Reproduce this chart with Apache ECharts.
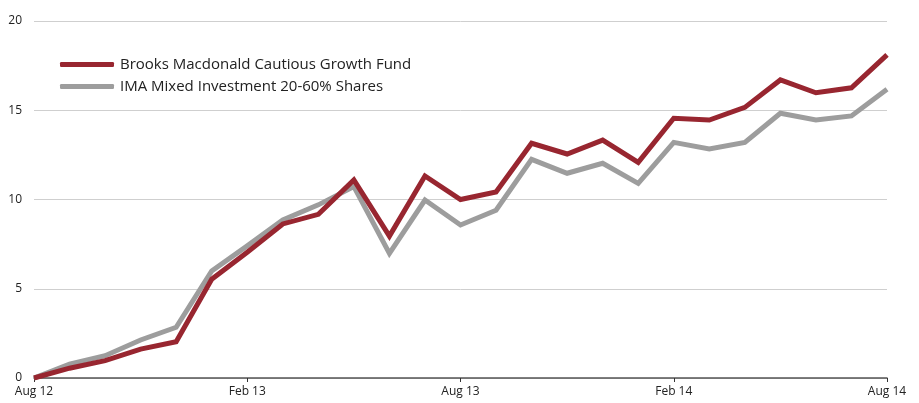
<!DOCTYPE html>
<html><head><meta charset="utf-8">
<script src="https://cdn.jsdelivr.net/npm/echarts@6/dist/echarts.min.js"></script>
<style>html,body{margin:0;padding:0;background:#fff}#c{width:919px;height:403px}</style>
</head><body><div id="c"></div>
<script>
const categories = ["Aug 12","Sep 12","Oct 12","Nov 12","Dec 12","Jan 13","Feb 13","Mar 13","Apr 13","May 13","Jun 13","Jul 13","Aug 13","Sep 13","Oct 13","Nov 13","Dec 13","Jan 14","Feb 14","Mar 14","Apr 14","May 14","Jun 14","Jul 14","Aug 14"];
const brooks = [0, 0.55, 0.97, 1.62, 2.03, 5.53, 7.05, 8.63, 9.17, 11.1, 7.95, 11.32, 10.0, 10.42, 13.15, 12.55, 13.33, 12.08, 14.55, 14.45, 15.16, 16.7, 15.98, 16.26, 18.1];
const ima = [0, 0.78, 1.25, 2.13, 2.84, 6.0, 7.4, 8.85, 9.7, 10.72, 6.98, 9.97, 8.57, 9.4, 12.25, 11.47, 12.03, 10.9, 13.2, 12.83, 13.2, 14.83, 14.45, 14.68, 16.17];
const yTicks = [0, 5, 10, 15, 20];
const seriesNames = ["Brooks Macdonald Cautious Growth Fund", "IMA Mixed Investment 20-60% Shares"];

const chart = echarts.init(document.getElementById('c'), null, {renderer: 'canvas'});
const font = "'Open Sans', 'Noto Sans', sans-serif";
chart.setOption({
  animation: false,
  backgroundColor: '#fff',
  grid: {left: 34, right: 32, top: 21, bottom: 25, containLabel: false},
  legend: {
    orient: 'vertical', left: 55, top: 52,
    itemWidth: 54, itemHeight: 5, itemGap: 7,
    icon: 'roundRect',
    textStyle: {fontFamily: font, fontSize: 15, color: '#222', padding: [0,0,0,1]},
    data: seriesNames
  },
  xAxis: {
    type: 'category', data: categories, boundaryGap: false,
    axisLine: {show: true, lineStyle: {color: '#555', width: 1.5}},
    axisTick: {show: true, interval: 5, length: 4, lineStyle: {color: '#333'}},
    axisLabel: {interval: 5, color: '#222', fontFamily: font, fontSize: 12, margin: 8},
    splitLine: {show: false}
  },
  yAxis: {
    type: 'value', min: yTicks[0], max: yTicks[yTicks.length-1], interval: 5,
    axisLine: {show: false}, axisTick: {show: false},
    axisLabel: {color: '#222', fontFamily: font, fontSize: 12, margin: 12},
    splitLine: {lineStyle: {color: '#cfcfcf', width: 1}}
  },
  series: [
    {name: seriesNames[1], type: 'line', data: ima, symbol: 'none', z: 2,
     lineStyle: {color: '#9d9d9d', width: 5, join: 'miter'}, itemStyle: {color: '#9d9d9d'}},
    {name: seriesNames[0], type: 'line', data: brooks, symbol: 'none', z: 3,
     lineStyle: {color: '#982630', width: 5, join: 'miter'}, itemStyle: {color: '#982630'}}
  ]
});
</script></body></html>
